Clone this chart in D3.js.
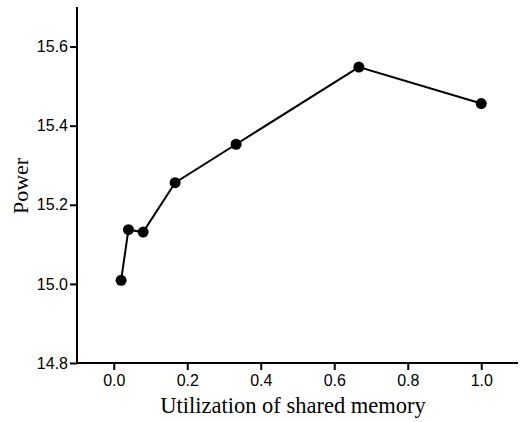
<!DOCTYPE html>
<html>
<head>
<meta charset="utf-8">
<script src="https://cdn.jsdelivr.net/npm/d3@7"></script>
<style>
  body { margin: 0; background: #fff; }
  .tick text { font-family: "Liberation Sans", Arial, sans-serif; font-size: 16px; fill: #000; }
  .title { font-family: "Liberation Serif", "Times New Roman", serif; fill: #000; }
</style>
</head>
<body>
<div id="chart"></div>
<script>
// data
const utilization = [0.02, 0.04, 0.08, 0.167, 0.333, 0.667, 1.0];
const power = [15.009, 15.137, 15.131, 15.256, 15.353, 15.548, 15.456];
const xTicks = [0.0, 0.2, 0.4, 0.6, 0.8, 1.0];
const yTicks = [14.8, 15.0, 15.2, 15.4, 15.6];

const width = 520, height = 422;
const margin = { top: 7, right: 2, bottom: 59, left: 77 };

const svg = d3.select("#chart").append("svg")
  .attr("width", width)
  .attr("height", height);

const x = d3.scaleLinear().domain([-0.1, 1.1]).range([margin.left, width - margin.right]);
const y = d3.scaleLinear().domain([14.8, 15.7]).range([height - margin.bottom, margin.top]);

// minor ticks
const xMinor = d3.range(-0.1, 1.11, 0.2).map(d => +d.toFixed(2));
const yMinor = d3.range(14.9, 15.71, 0.2).map(d => +d.toFixed(2));

const gx = svg.append("g").attr("transform", `translate(0,${y.range()[0]})`);
gx.call(d3.axisBottom(x).tickValues(xMinor).tickSize(4).tickFormat(""));
gx.call(d3.axisBottom(x).tickValues(xTicks).tickSize(7).tickPadding(5).tickFormat(d3.format(".1f")));
gx.select(".domain").attr("d", `M${x.range()[0]},0H${x.range()[1]}`);

const gy = svg.append("g").attr("transform", `translate(${x.range()[0]},0)`);
gy.call(d3.axisLeft(y).tickValues(yMinor).tickSize(4).tickFormat(""));
gy.call(d3.axisLeft(y).tickValues(yTicks).tickSize(7).tickPadding(2).tickFormat(d3.format(".1f")));
gy.select(".domain").attr("d", `M0,${y.range()[0]}V${y.range()[1]}`);

svg.selectAll(".domain, .tick line").attr("stroke", "#000").attr("stroke-width", 2);

// line + markers
const pts = utilization.map((u, i) => [u, power[i]]);
svg.append("path")
  .datum(pts)
  .attr("fill", "none")
  .attr("stroke", "#000")
  .attr("stroke-width", 2)
  .attr("d", d3.line().x(d => x(d[0])).y(d => y(d[1])));

svg.selectAll(".dot")
  .data(pts)
  .enter()
  .append("circle")
  .attr("class", "dot")
  .attr("cx", d => x(d[0]))
  .attr("cy", d => y(d[1]))
  .attr("r", 5.5)
  .attr("fill", "#000");

// titles
svg.append("text")
  .attr("class", "title")
  .attr("x", 293)
  .attr("y", 413)
  .attr("text-anchor", "middle")
  .style("font-size", "22.5px")
  .text("Utilization of shared memory");

svg.append("text")
  .attr("class", "title")
  .attr("transform", `translate(28,186) rotate(-90)`)
  .attr("text-anchor", "middle")
  .style("font-size", "22px")
  .text("Power");
</script>
</body>
</html>
